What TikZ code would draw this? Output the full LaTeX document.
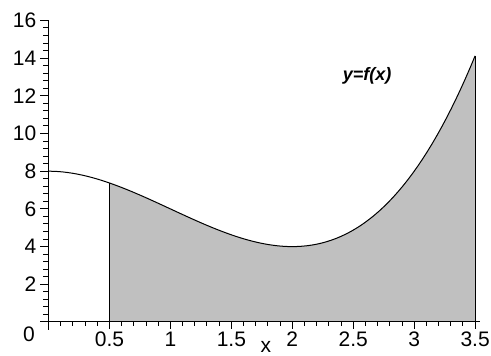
\documentclass[tikz,border=0pt]{standalone}
\usepackage{fontspec}
\setmainfont{Liberation Sans}
\usepackage{tikz}
\definecolor{areagray}{HTML}{C0C0C0}

\begin{document}
\begin{tikzpicture}[
  x=121.9pt, y=18.85pt,
  axis/.style={line width=1pt},
  ticklab/.style={font=\fontsize{21}{24}\selectfont, inner sep=0pt},
  curvelab/.style={font=\fontsize{18}{20}\selectfont\bfseries\itshape, inner sep=0pt}
]
  \useasboundingbox (-48.5pt,-34pt) rectangle (442.5pt,322pt);
  % shaded area under the curve
  \fill[areagray] (0.5,0) -- plot[domain=0.5:3.5, samples=60] (\x,{\x*\x*\x-3*\x*\x+8}) -- (3.5,0) -- cycle;
  \draw[line width=1pt] plot[domain=0:3.5, samples=90] (\x,{\x*\x*\x-3*\x*\x+8});
  \draw[line width=1pt] (0.5,0) -- (0.5,7.375);
  \draw[line width=1pt] (3.5,0) -- (3.5,14.125);
  % axes
  \draw[axis] (-8pt,0) -- (3.54,0);
  \draw[axis] (0,-8pt) -- (0,16);
  \foreach \i in {1,...,35}
    \draw[axis] (\i/10,0) -- ++(0,-4.5pt);
  \foreach \i in {1,...,7}
    \draw[axis] (\i/2,0) -- ++(0,-7pt);
  \foreach \i in {1,...,40}
    \draw[axis] (0,\i*0.4) -- ++(-5pt,0);
  \foreach \i in {1,...,8}
    \draw[axis] (0,\i*2) -- ++(-8pt,0);
  % labels
  \node[ticklab] (zero) at (0,0) [xshift=-19.5pt, yshift=-12pt] {0};
  \foreach \t [count=\k] in {0.5,1,1.5,2,2.5,3,3.5}
    \node[ticklab, anchor=north, yshift=-10pt] (xlab\k) at (\t,0) {\t};
  \foreach \t [count=\k] in {2,4,...,16}
    \node[ticklab, anchor=east, xshift=-12pt] (ylab\k) at (0,\t) {\t};
  \node[ticklab, anchor=base] (xname) at (1.784,0) [yshift=-31pt] {x};
  \node[curvelab] (fname) at (2.613,13.05) {y=f(x)};
\end{tikzpicture}
\end{document}
